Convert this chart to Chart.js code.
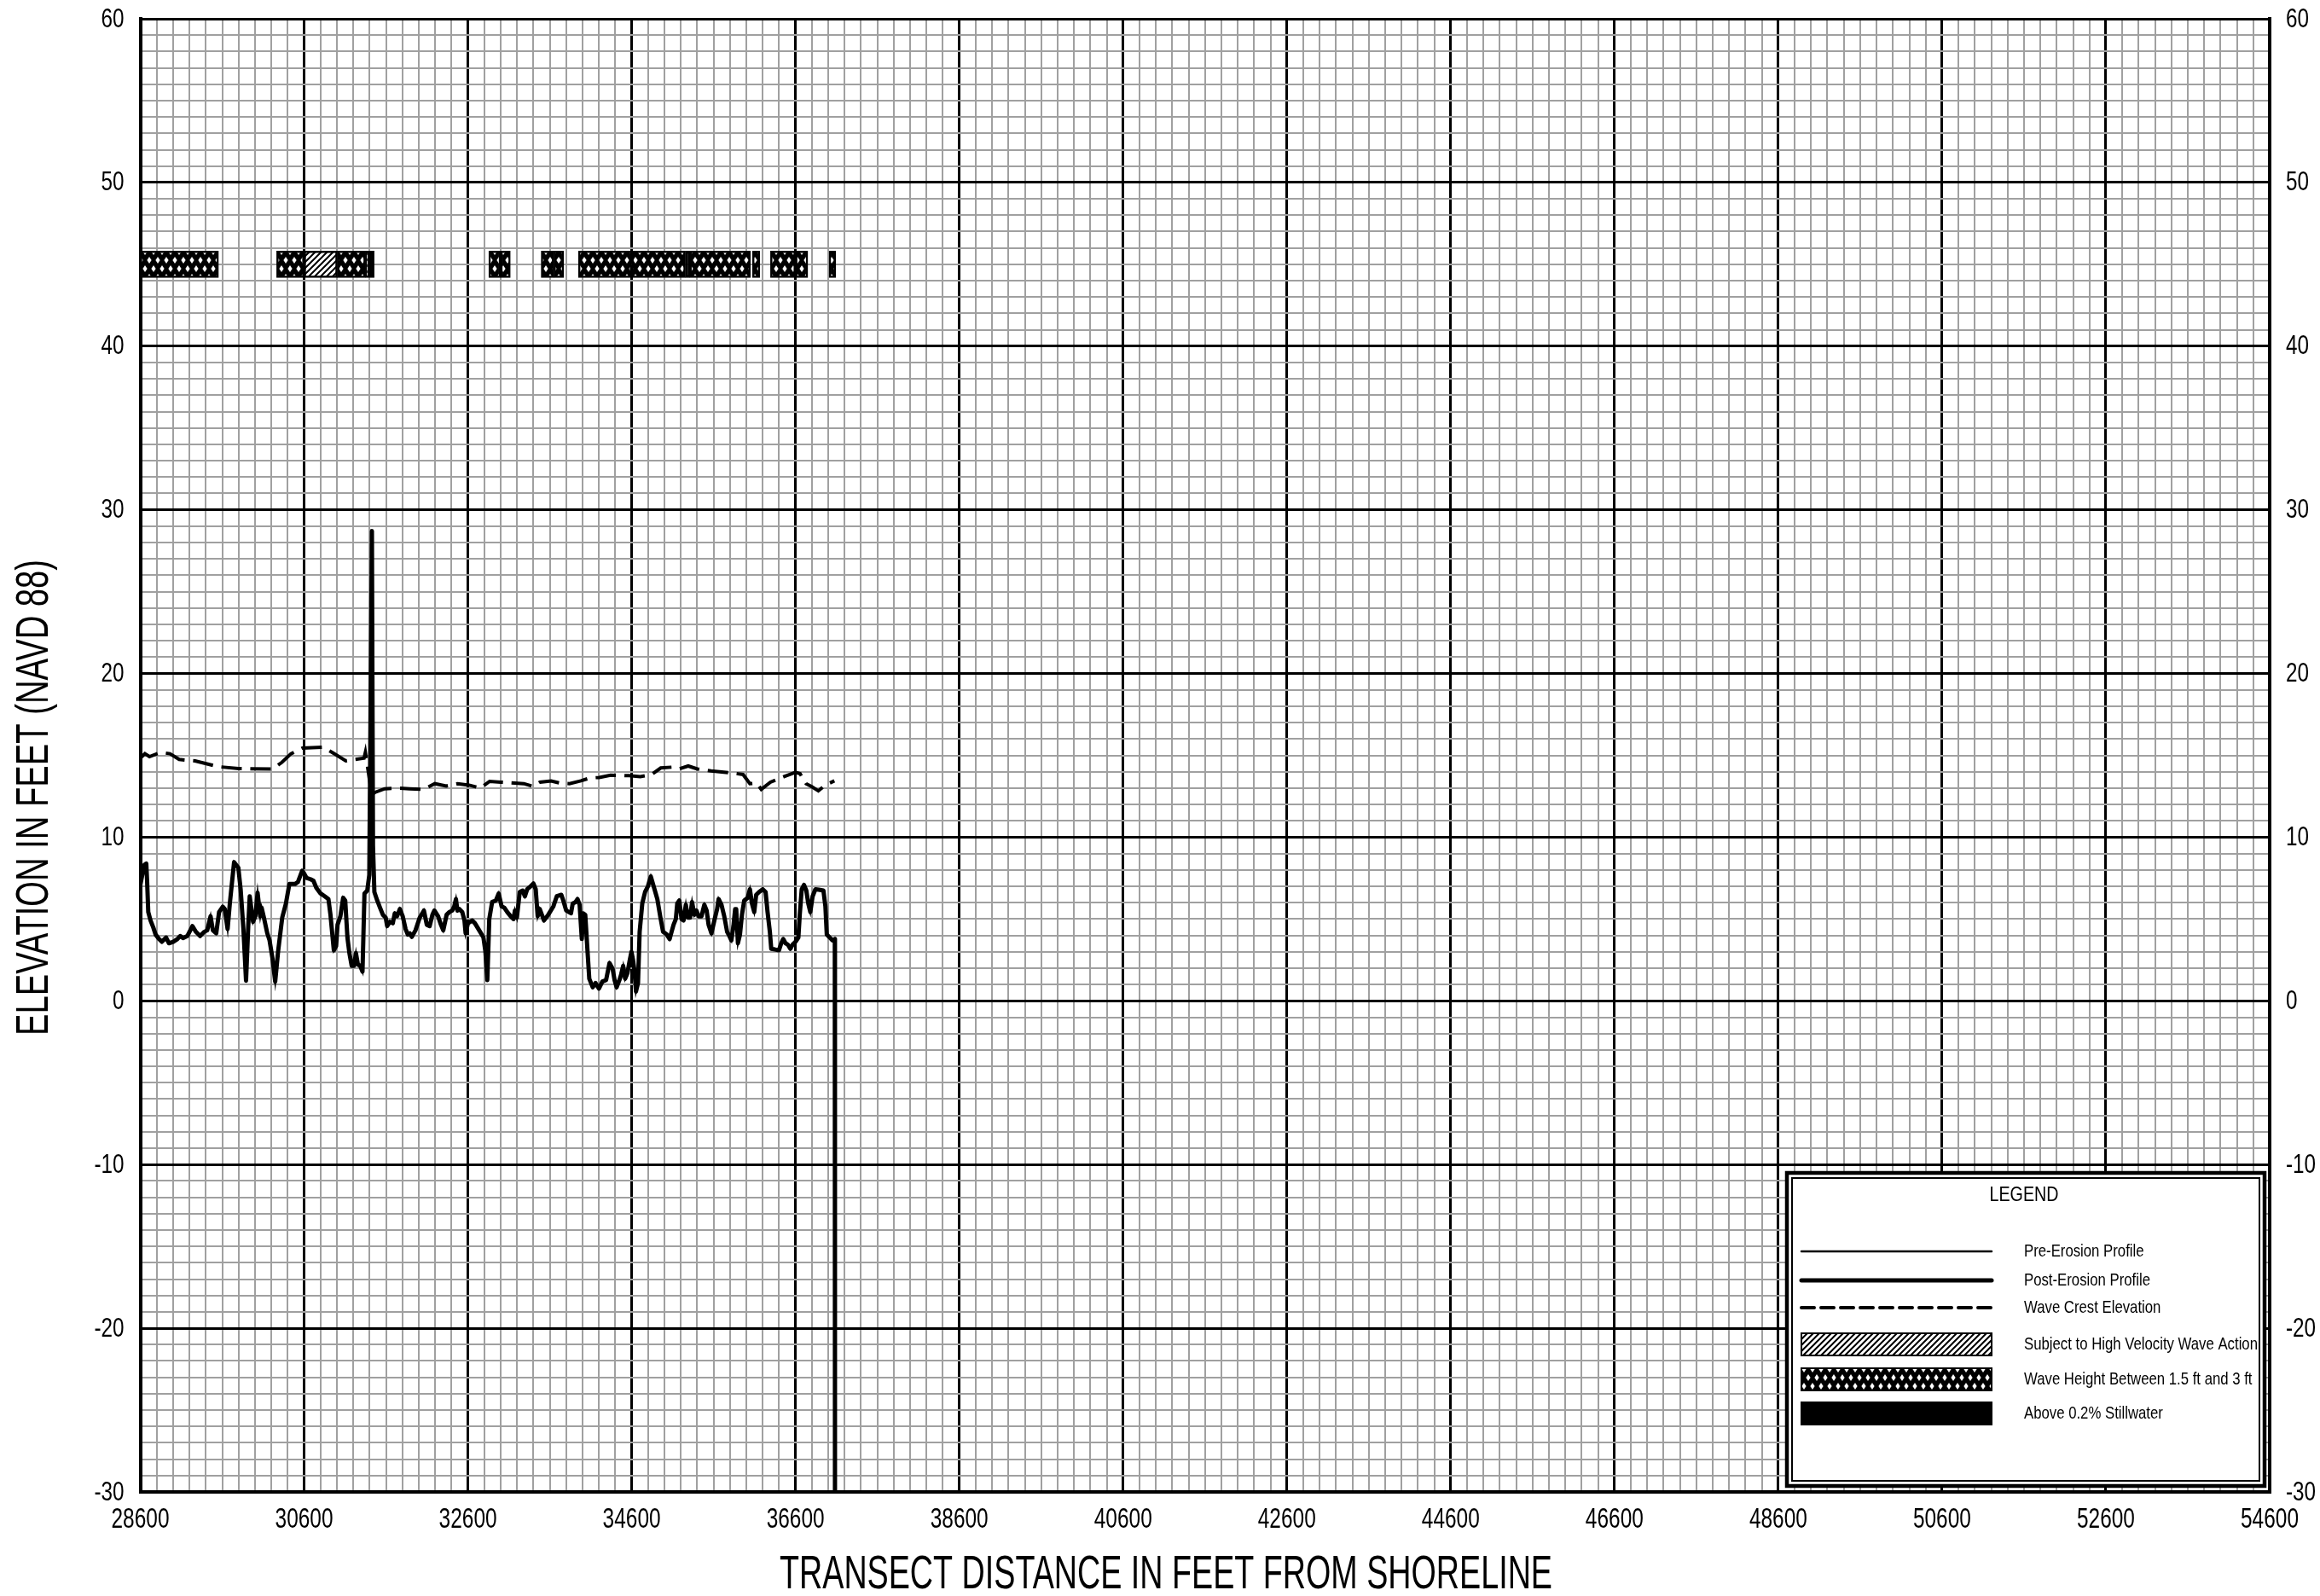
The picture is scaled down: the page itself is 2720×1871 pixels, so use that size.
<!DOCTYPE html>
<html>
<head>
<meta charset="utf-8">
<title>Transect profile</title>
<script src="https://cdn.jsdelivr.net/npm/chart.js@4.4.1/dist/chart.umd.min.js"></script>
<style>
  html, body { margin: 0; padding: 0; background: #fff; }
</style>
</head>
<body>
<canvas id="profileChart" width="2720" height="1871"></canvas>
<script>
// tick labels shown on the sheet
const xMajorTicks = [28600, 30600, 32600, 34600, 36600, 38600, 40600, 42600, 44600, 46600, 48600, 50600, 52600, 54600];
const yMajorTicks = [-30, -20, -10, 0, 10, 20, 30, 40, 50, 60];

// post-erosion ground profile (ft from shoreline, ft NAVD 88)
const profileX = [
  28600, 28648, 28673, 28683, 28697, 28725, 28759, 28787, 28828, 28863,
  28915, 28950, 29001, 29053, 29088, 29122, 29174, 29237, 29278, 29330,
  29382, 29417, 29458, 29486, 29527, 29562, 29607, 29631, 29666, 29693,
  29745, 29797, 29825, 29859, 29891, 29918, 29936, 29977, 30005, 30032,
  30064, 30081, 30109, 30150, 30178, 30212, 30247, 30282, 30333, 30378,
  30420, 30489, 30524, 30576, 30600, 30628, 30679, 30714, 30749, 30801,
  30852, 30897, 30922, 30963, 30991, 31008, 31043, 31077, 31102, 31129,
  31153, 31181, 31209, 31233, 31257, 31285, 31313, 31337, 31371, 31396,
  31428, 31441, 31458, 31493, 31527, 31562, 31596, 31614, 31648, 31683,
  31707, 31735, 31769, 31804, 31839, 31866, 31890, 31915, 31960, 32012,
  32063, 32098, 32133, 32167, 32191, 32236, 32271, 32299, 32340, 32375,
  32409, 32434, 32454, 32472, 32496, 32531, 32558, 32572, 32600, 32652,
  32686, 32738, 32790, 32814, 32837, 32861, 32896, 32941, 32976, 33011,
  33045, 33080, 33122, 33157, 33174, 33198, 33233, 33268, 33296, 33324,
  33365, 33400, 33428, 33452, 33477, 33529, 33581, 33644, 33685, 33741,
  33765, 33800, 33859, 33880, 33915, 33939, 33964, 33991, 34009, 34033,
  34061, 34082, 34124, 34158, 34200, 34242, 34287, 34329, 34367, 34391,
  34416, 34450, 34471, 34496, 34520, 34548, 34576, 34597, 34617, 34635,
  34652, 34677, 34697, 34729, 34763, 34798, 34833, 34868, 34913, 34948,
  34983, 35028, 35063, 35087, 35111, 35139, 35156, 35181, 35209, 35233,
  35261, 35285, 35313, 35337, 35365, 35390, 35417, 35452, 35487, 35515,
  35539, 35574, 35609, 35643, 35661, 35696, 35730, 35765, 35793, 35817,
  35842, 35863, 35876, 35897, 35922, 35946, 35974, 36016, 36043, 36068,
  36096, 36120, 36155, 36200, 36235, 36259, 36287, 36304, 36349, 36398,
  36426, 36450, 36478, 36506, 36537, 36565, 36600, 36635, 36652, 36676,
  36704, 36732, 36756, 36781, 36809, 36843, 36885, 36941, 36965, 36982,
  37017, 37052, 37080, 37082
];
const profileY = [
  7.08, 8.30, 8.39, 7.34, 5.43, 4.91, 4.48, 4.05, 3.78, 3.61,
  3.87, 3.52, 3.61, 3.78, 3.96, 3.84, 3.96, 4.57, 4.22, 3.96,
  4.22, 4.31, 5.17, 4.31, 4.13, 5.43, 5.75, 5.61, 4.39, 5.95,
  8.47, 8.13, 6.82, 4.39, 1.23, 4.57, 6.39, 4.83, 5.17, 6.61,
  5.17, 5.69, 5.09, 4.13, 3.70, 2.66, 1.18, 3.00, 5.09, 5.95,
  7.14, 7.14, 7.26, 7.95, 7.78, 7.52, 7.43, 7.34, 6.91, 6.56,
  6.39, 6.22, 5.26, 3.09, 3.35, 4.65, 5.17, 6.30, 6.13, 3.87,
  2.92, 2.14, 2.14, 2.92, 2.22, 2.14, 1.79, 6.56, 6.74, 7.69,
  28.70, 9.50, 6.65, 6.13, 5.69, 5.26, 5.09, 4.57, 4.83, 4.74,
  5.35, 5.17, 5.61, 5.17, 4.39, 4.05, 4.13, 3.91, 4.31, 5.09,
  5.52, 4.65, 4.57, 5.26, 5.52, 5.17, 4.65, 4.31, 5.26, 5.43,
  5.52, 5.78, 6.22, 5.52, 5.61, 5.43, 4.91, 4.13, 4.74, 4.91,
  4.74, 4.31, 3.87, 3.00, 1.27, 5.00, 6.04, 6.13, 6.56, 5.78,
  5.69, 5.43, 5.17, 5.00, 5.52, 5.09, 6.65, 6.74, 6.39, 6.82,
  7.00, 7.17, 6.82, 5.17, 5.61, 4.91, 5.26, 5.78, 6.39, 6.48,
  6.13, 5.52, 5.35, 5.95, 6.04, 6.22, 5.87, 3.78, 5.35, 5.26,
  3.00, 1.35, 0.83, 1.09, 0.75, 1.18, 1.27, 2.31, 1.96, 1.27,
  0.83, 1.27, 1.61, 2.14, 1.35, 1.70, 2.48, 3.00, 2.48, 1.79,
  0.57, 1.09, 4.22, 5.95, 6.65, 7.00, 7.60, 7.00, 6.22, 5.17,
  4.22, 4.05, 3.78, 4.22, 4.65, 5.00, 5.95, 6.13, 5.00, 4.91,
  5.87, 5.09, 5.09, 6.04, 5.26, 5.52, 5.17, 5.17, 5.87, 5.52,
  4.65, 4.13, 4.91, 5.61, 6.22, 5.87, 5.17, 4.22, 3.96, 3.70,
  4.57, 5.61, 5.61, 3.52, 4.05, 5.26, 6.13, 6.30, 6.82, 5.95,
  5.43, 6.48, 6.65, 6.82, 6.65, 5.43, 4.22, 3.18, 3.14, 3.09,
  3.52, 3.78, 3.52, 3.44, 3.18, 3.44, 3.61, 3.87, 5.26, 6.82,
  7.08, 6.74, 5.95, 5.43, 6.39, 6.82, 6.79, 6.74, 5.78, 4.05,
  3.87, 3.70, 3.78, -30
];

// wave crest elevation
const crestX = [
  28600, 28656, 28712, 28851, 28962, 29074, 29269, 29548, 29799, 30217,
  30328, 30440, 30579, 30830, 30942, 31109, 31220, 31332, 31348, 31425,
  31471, 31583, 31750, 31889, 32056, 32196, 32335, 32475, 32614, 32754,
  32865, 33004, 33283, 33395, 33478, 33617, 33729, 33840, 33980, 34091,
  34203, 34342, 34565, 34704, 34844, 34955, 35095, 35179, 35290, 35402,
  35569, 35820, 35960, 36043, 36127, 36182, 36294, 36461, 36600, 36656,
  36729, 36795, 36879, 36963, 37075
];
const crestY = [
  14.83, 15.10, 14.92, 15.18, 15.10, 14.75, 14.66, 14.31, 14.19, 14.17,
  14.57, 15.10, 15.44, 15.50, 15.18, 14.66, 14.75, 14.83, 15.18, 12.60,
  12.75, 12.96, 13.00, 12.96, 12.92, 13.27, 13.13, 13.27, 13.18, 13.00,
  13.41, 13.36, 13.27, 13.10, 13.36, 13.44, 13.30, 13.27, 13.44, 13.62,
  13.65, 13.79, 13.76, 13.70, 13.83, 14.23, 14.28, 14.17, 14.35, 14.17,
  14.05, 13.93, 13.83, 13.27, 13.30, 12.92, 13.36, 13.70, 13.97, 13.88,
  13.27, 13.10, 12.83, 13.18, 13.44
];

// zone bands drawn along elevation 45 (start, end in ft)
const bandLevel = 45;
const diagBands = [[30600, 31005], [31348, 31395]];
const crossBands = [
  [28600, 29555], [30265, 30600], [31005, 31348], [32855, 33000], [33000, 33118],
  [33495, 33650], [33650, 33770], [33950, 34600], [34600, 35255], [35310, 36050],
  [36075, 36165], [36295, 36600], [36600, 36750], [37010, 37092]
];
const solidBands = [[31395, 31455], [35255, 35310]];

const FONT = "'Liberation Sans', Arial, sans-serif";

function diamond(g, cx, cy, hw, hh) {
  g.beginPath();
  g.moveTo(cx, cy - hh); g.lineTo(cx + hw, cy); g.lineTo(cx, cy + hh); g.lineTo(cx - hw, cy);
  g.closePath(); g.fill();
}

function crossHatch() {
  const c = document.createElement('canvas');
  c.width = 10; c.height = 20;
  const g = c.getContext('2d');
  g.fillStyle = '#000'; g.fillRect(0, 0, 10, 20);
  g.fillStyle = '#fff';
  diamond(g, 5, 5, 2.6, 4);
  diamond(g, 0, 15, 2.6, 4);
  diamond(g, 10, 15, 2.6, 4);
  return g.createPattern(c, 'repeat');
}

function diagHatch() {
  const s = 7;
  const c = document.createElement('canvas');
  c.width = s; c.height = s;
  const g = c.getContext('2d');
  g.fillStyle = '#fff'; g.fillRect(0, 0, s, s);
  g.strokeStyle = '#000'; g.lineWidth = 2;
  g.beginPath();
  for (let k = -1; k <= 1; k++) {
    g.moveTo(k * s - 1, s + 1);
    g.lineTo(k * s + s + 1, -1);
  }
  g.stroke();
  return g.createPattern(c, 'repeat');
}

const crossFill = crossHatch();
const diagFill = diagHatch();

const pts = (xs, ys) => xs.map((x, i) => ({ x: x, y: ys[i] }));
const bands = list => list.map(b => ({ x: b, y: bandLevel }));

// narrow lettering: draw text then squeeze it horizontally by k
function narrowText(ctx, text, x, y, size, k, align, angle) {
  ctx.save();
  ctx.font = size + 'px ' + FONT;
  ctx.fillStyle = '#000';
  ctx.textAlign = align;
  ctx.textBaseline = 'middle';
  ctx.translate(x, y);
  if (angle) ctx.rotate(angle);
  ctx.scale(k, 1);
  ctx.fillText(text, 0, 0);
  ctx.restore();
}

function squeezeFor(ctx, sample, size, width) {
  ctx.save();
  ctx.font = size + 'px ' + FONT;
  const k = width / ctx.measureText(sample).width;
  ctx.restore();
  return k;
}

// tick labels, axis titles and the legend box
const sheetDecor = {
  id: 'sheetDecor',
  afterDraw(chart) {
    const ctx = chart.ctx;
    const { x, y, y2 } = chart.scales;

    const kx = squeezeFor(ctx, '28600', 34, 68);
    xMajorTicks.forEach(v => narrowText(ctx, String(v), x.getPixelForValue(v), x.top + 33, 34, kx, 'center'));
    const ky = squeezeFor(ctx, '60', 31, 27);
    yMajorTicks.forEach(v => {
      const py = y.getPixelForValue(v) + 1;
      narrowText(ctx, String(v), y.right - 19, py, 31, ky, 'right');
      narrowText(ctx, String(v), y2.left + 19, py, 31, ky, 'left');
    });

    const t1 = 'ELEVATION IN FEET (NAVD 88)';
    narrowText(ctx, t1, 41, 935, 54, squeezeFor(ctx, t1, 54, 558), 'center', -Math.PI / 2);
    const t2 = 'TRANSECT DISTANCE IN FEET FROM SHORELINE';
    narrowText(ctx, t2, 1367, 1847, 56, squeezeFor(ctx, t2, 56, 906), 'center');

    const L = 2093, T = 1373, R = 2657, B = 1744;
    ctx.save();
    ctx.fillStyle = '#fff';
    ctx.fillRect(L, T, R - L, B - T);
    ctx.strokeStyle = '#000';
    ctx.lineWidth = 4.5;
    ctx.strokeRect(L + 2, T + 2, R - L - 4, B - T - 4);
    ctx.lineWidth = 2;
    ctx.strokeRect(L + 8, T + 8, R - L - 16, B - T - 16);

    narrowText(ctx, 'LEGEND', 2373, 1401, 24, squeezeFor(ctx, 'LEGEND', 24, 81), 'center');

    const rows = [1467, 1501, 1533, 1576, 1617, 1657];
    const x0 = 2112, x1 = 2335, tx = 2373;
    const labels = chart.data.datasets.map(d => d.label);
    const kl = Math.min(...labels.map(t => squeezeFor(ctx, t, 21, 274)));
    chart.data.datasets.forEach((ds, i) => {
      const ry = rows[i];
      if (ds.type === 'bar') {
        ctx.fillStyle = ds.backgroundColor;
        ctx.fillRect(x0, ry - 13, x1 - x0, 26);
        ctx.lineWidth = 2;
        ctx.strokeStyle = '#000';
        ctx.strokeRect(x0, ry - 13, x1 - x0, 26);
      } else {
        ctx.beginPath();
        ctx.lineWidth = ds.borderWidth;
        ctx.lineCap = 'round';
        ctx.setLineDash(ds.borderDash ? [15, 8] : []);
        ctx.strokeStyle = '#000';
        ctx.moveTo(x0, ry); ctx.lineTo(x1, ry);
        ctx.stroke();
        ctx.setLineDash([]);
      }
      narrowText(ctx, ds.label, tx, ry, 21, kl, 'left');
    });
    ctx.restore();
  }
};

const isMajor = (c, list) => !!c.tick && list.includes(c.tick.value);

const profileChart = new Chart(document.getElementById('profileChart'), {
  type: 'line',
  data: {
    datasets: [
      { label: 'Pre-Erosion Profile', data: pts(profileX, profileY), borderColor: '#000', borderWidth: 2.5,
        pointRadius: 0, tension: 0, fill: false, xAxisID: 'x', yAxisID: 'y' },
      { label: 'Post-Erosion Profile', data: pts(profileX, profileY), borderColor: '#000', borderWidth: 5,
        borderJoinStyle: 'round', borderCapStyle: 'round', pointRadius: 0, tension: 0, fill: false, xAxisID: 'x', yAxisID: 'y' },
      { label: 'Wave Crest Elevation', data: pts(crestX, crestY), borderColor: '#000', borderWidth: 4,
        borderDash: [24, 10], pointRadius: 0, tension: 0, fill: false, xAxisID: 'x', yAxisID: 'y' },
      { type: 'bar', label: 'Subject to High Velocity Wave Action', indexAxis: 'y', grouped: false, barThickness: 31,
        data: bands(diagBands), backgroundColor: diagFill, borderColor: '#000', borderWidth: 2.5, borderSkipped: false,
        xAxisID: 'x', yAxisID: 'y' },
      { type: 'bar', label: 'Wave Height Between 1.5 ft and 3 ft', indexAxis: 'y', grouped: false, barThickness: 31,
        data: bands(crossBands), backgroundColor: crossFill, borderColor: '#000', borderWidth: 2.5, borderSkipped: false,
        xAxisID: 'x', yAxisID: 'y' },
      { type: 'bar', label: 'Above 0.2% Stillwater', indexAxis: 'y', grouped: false, barThickness: 31,
        data: bands(solidBands), backgroundColor: '#000', borderColor: '#000', borderWidth: 2.5, borderSkipped: false,
        xAxisID: 'x', yAxisID: 'y' }
    ]
  },
  options: {
    responsive: false,
    animation: false,
    events: [],
    layout: { padding: { top: 22, left: 0, right: 0, bottom: 0 } },
    plugins: { legend: { display: false }, tooltip: { enabled: false } },
    scales: {
      x: {
        type: 'linear', position: 'bottom', min: 28600, max: 54600, offset: false, beginAtZero: false,
        afterFit: s => { s.height = 122; },
        ticks: { stepSize: 200, autoSkip: false, maxRotation: 0, minRotation: 0, display: false },
        grid: {
          offset: false,
          drawTicks: false,
          color: c => isMajor(c, xMajorTicks) ? '#000' : '#a0a0a0',
          lineWidth: c => isMajor(c, xMajorTicks) ? 3 : 2
        },
        border: { color: '#000', width: 4 }
      },
      y: {
        type: 'linear', position: 'left', min: -30, max: 60, offset: false,
        afterFit: s => { s.width = 164.5; },
        ticks: { stepSize: 1, autoSkip: false, display: false },
        grid: {
          offset: false,
          drawTicks: false,
          color: c => isMajor(c, yMajorTicks) ? '#000' : '#a0a0a0',
          lineWidth: c => isMajor(c, yMajorTicks) ? 3 : 2
        },
        border: { color: '#000', width: 4 }
      },
      y2: {
        type: 'linear', position: 'right', min: -30, max: 60, offset: false,
        afterFit: s => { s.width = 59; },
        ticks: { stepSize: 1, autoSkip: false, display: false },
        grid: { offset: false, drawOnChartArea: false, drawTicks: false },
        border: { color: '#000', width: 4 }
      }
    }
  },
  plugins: [sheetDecor]
});
</script>
</body>
</html>
